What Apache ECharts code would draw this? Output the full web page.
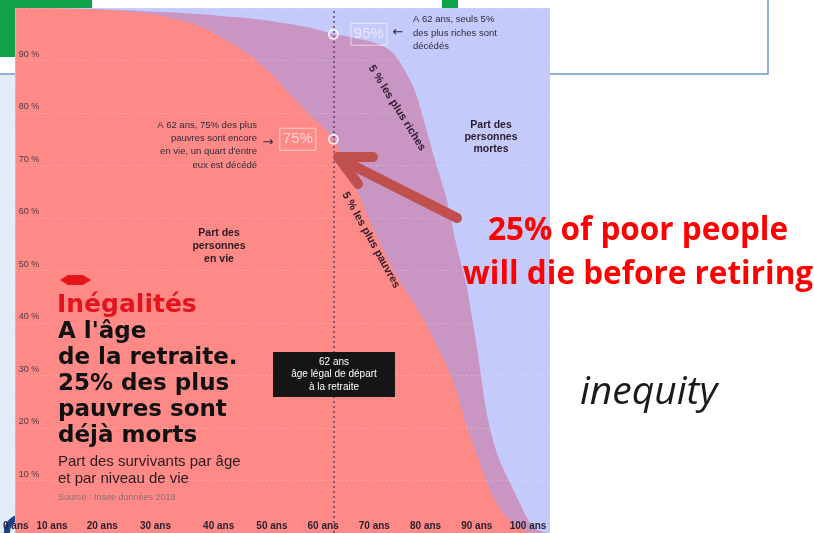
<!DOCTYPE html>
<html>
<head>
<meta charset="utf-8">
<script src="https://cdn.jsdelivr.net/npm/echarts@6/dist/echarts.min.js"></script>
<style>
  html, body { margin: 0; padding: 0; background: #fff; }
  #chart { width: 814px; height: 533px; }
</style>
</head>
<body>
<div id="chart"></div>
<script>
// âges (ans) et part des survivants (%)
var ages     = [0, 10, 15, 20, 25, 30, 35, 40, 45, 50, 55, 58, 60, 62, 64, 66, 68, 70, 72, 74, 76, 78, 80, 82, 84, 86, 88, 90, 92, 94, 96, 98, 100, 101, 102, 104];
var richPct  = [100, 99.9, 99.8, 99.6, 99.4, 99.2, 98.9, 98.5, 98.1, 97.5, 96.7, 96.1, 95.6, 95, 94.7, 94.3, 93.9, 93.4, 92.6, 91, 88, 84, 77.5, 70.5, 64, 55, 47, 35.5, 22.5, 15, 10.5, 6.5, 2.5, 1.2, 0.5, 0];
var poorPct  = [100, 99.9, 99.7, 99.5, 99, 98.2, 96.9, 94.5, 91.5, 87.3, 82, 79, 77.3, 75, 71, 66.5, 62, 57.5, 53.3, 49.5, 46.3, 43.2, 40, 36, 32, 27, 20.5, 15, 9.5, 5.5, 2.8, 1.2, 0.3, 0.1, 0, 0];

var ageTicks = [0, 10, 20, 30, 40, 50, 60, 70, 80, 90, 100];
var pctTicks = [10, 20, 30, 40, 50, 60, 70, 80, 90];

var retireAge = 62;
var markPct = [95, 75];   // riches, pauvres à 62 ans

function zip(xs, ys) {
  var out = [];
  for (var i = 0; i < xs.length; i++) out.push([xs[i], ys[i]]);
  return out;
}

var chart = echarts.init(document.getElementById('chart'));

var small = 'Liberation Sans';

// les étiquettes 10-40 ans sont un peu décalées à gauche dans l'original
var tickFont = { fontSize: 10, fontWeight: 'bold', color: '#2a2030', fontFamily: small };
var tickRich = {
  s0: tickFont,
  s10: Object.assign({ padding: [0, 30, 0, 0] }, tickFont),
  s20: Object.assign({ padding: [0, 32, 0, 0] }, tickFont),
  s30: Object.assign({ padding: [0, 28, 0, 0] }, tickFont),
  s40: Object.assign({ padding: [0, 4, 0, 0] }, tickFont)
};

var option = {
  animation: false,
  grid: { left: 15.5, right: 265.5, top: 8, bottom: -6 },
  xAxis: {
    type: 'value', min: 0, max: 104, interval: 10, z: 5,
    axisLine: { show: false }, axisTick: { show: false }, splitLine: { show: false },
    axisLabel: {
      inside: true, margin: 2, fontSize: 10, fontWeight: 'bold', color: '#2a2030', fontFamily: small,
      rich: tickRich,
      formatter: function (v) {
        if (ageTicks.indexOf(v) < 0) return '';
        var key = tickRich['s' + v] ? 's' + v : 's0';
        return '{' + key + '|' + v + ' ans}';
      }
    }
  },
  yAxis: {
    type: 'value', min: 0, max: 100, interval: 10, z: 5,
    axisLine: { show: false }, axisTick: { show: false },
    splitLine: { show: true, lineStyle: { color: 'rgba(255,255,255,0.25)', type: [2, 3], width: 1 } },
    axisLabel: {
      inside: true, margin: 3, fontSize: 9, color: '#4a3a40', fontFamily: small,
      verticalAlign: 'bottom', lineHeight: 12,
      formatter: function (v) { return pctTicks.indexOf(v) >= 0 ? v + ' %' : ''; }
    }
  },
  series: [
    {
      name: 'riches', type: 'line', z: 2, smooth: 0.3, symbol: 'none',
      data: zip(ages, richPct),
      lineStyle: { width: 0 },
      areaStyle: { color: '#c996c4', opacity: 1 }
    },
    {
      name: 'pauvres', type: 'line', z: 3, smooth: 0.3, symbol: 'none',
      data: zip(ages, poorPct),
      lineStyle: { width: 0 },
      areaStyle: { color: '#fe8a87', opacity: 1 }
    },
    {
      name: 'marques', type: 'scatter', z: 6,
      symbol: 'circle', symbolSize: 9,
      itemStyle: { color: 'rgba(0,0,0,0)', borderColor: '#fff', borderWidth: 2 },
      label: {
        show: true, distance: 12, fontSize: 15, fontFamily: small,
        color: 'rgba(255,240,248,0.9)', borderColor: 'rgba(255,255,255,0.75)', borderWidth: 1,
        padding: [4, 3, 3, 3],
        formatter: function (p) { return p.value[1] + '%'; }
      },
      data: [
        { value: [retireAge, markPct[0]], label: { position: 'right' } },
        { value: [retireAge, markPct[1]], label: { position: 'left' } }
      ],
      markLine: {
        silent: true, symbol: 'none', label: { show: false },
        lineStyle: { color: '#5d4468', type: [2, 3], width: 1.5 },
        data: [{ xAxis: retireAge }]
      }
    }
  ],
  graphic: [
    // fond de la diapositive
    { type: 'rect', z: -10, shape: { x: -1, y: -1, width: 769, height: 75 }, style: { fill: '#fff', stroke: '#6d94cc', lineWidth: 1.5 } },
    { type: 'rect', z: -9, shape: { x: 0, y: 0, width: 92, height: 57 }, style: { fill: '#10a24a' } },
    { type: 'rect', z: -9, shape: { x: 442, y: 0, width: 16, height: 8 }, style: { fill: '#10a24a' } },
    { type: 'rect', z: -9, shape: { x: 0, y: 75, width: 15, height: 458 }, style: { fill: '#e2ecf7' } },
    { type: 'arc', z: -8, shape: { cx: 22, cy: 532, r: 15, startAngle: Math.PI * 0.9, endAngle: Math.PI * 1.6 }, style: { stroke: '#1f3f8f', lineWidth: 6, fill: null } },
    // panneau du graphique
    { type: 'rect', z: -5, shape: { x: 15, y: 8, width: 535, height: 525 }, style: { fill: '#c4cafa' } },

    // annotations
    { type: 'text', z: 10, x: 413, y: 13, style: { text: 'A 62 ans, seuls 5%\ndes plus riches sont\ndécédés', font: '9.5px ' + small, lineHeight: 13.5, fill: '#2e2a3a' } },
    { type: 'text', z: 10, x: 398, y: 33, style: { text: '←', font: '13px DejaVu Sans', fill: '#2e2a3a', align: 'center', verticalAlign: 'middle' } },
    { type: 'text', z: 10, x: 257, y: 118.5, style: { text: 'A 62 ans, 75% des plus\npauvres sont encore\nen vie, un quart d\'entre\neux est décédé', font: '9.5px ' + small, lineHeight: 13.3, fill: '#2e2a3a', align: 'right' } },
    { type: 'text', z: 10, x: 268, y: 143, style: { text: '→', font: '13px DejaVu Sans', fill: '#2e2a3a', align: 'center', verticalAlign: 'middle' } },
    { type: 'text', z: 10, x: 219, y: 226.5, style: { text: 'Part des\npersonnes\nen vie', font: 'bold 10.5px ' + small, lineHeight: 13, fill: '#2a1a22', align: 'center' } },
    { type: 'text', z: 10, x: 491, y: 119, style: { text: 'Part des\npersonnes\nmortes', font: 'bold 10.5px ' + small, lineHeight: 12, fill: '#2a1a30', align: 'center' } },
    { type: 'text', z: 10, x: 397, y: 108, rotation: -58 * Math.PI / 180, style: { text: '5 % les plus riches', font: 'bold 11px ' + small, fill: '#2b1b2d', align: 'center', verticalAlign: 'middle' } },
    { type: 'text', z: 10, x: 371, y: 240, rotation: -61 * Math.PI / 180, style: { text: '5 % les plus pauvres', font: 'bold 11px ' + small, fill: '#2b1b2d', align: 'center', verticalAlign: 'middle' } },

    // encadré 62 ans
    { type: 'rect', z: 10, shape: { x: 273, y: 352, width: 122, height: 45 }, style: { fill: '#151515' } },
    { type: 'text', z: 11, x: 334, y: 355.5, style: { text: '62 ans\nâge légal de départ\nà la retraite', font: '10px ' + small, lineHeight: 12.5, fill: '#fff', align: 'center' } },

    // titre
    { type: 'polygon', z: 10, shape: { points: [[60, 280], [68, 275], [83, 275], [91, 280], [83, 285], [68, 285]] }, style: { fill: '#e3141b' } },
    { type: 'text', z: 10, x: 57, y: 305, style: { text: 'Inégalités', font: 'bold 25px DejaVu Sans', fill: '#e3141b', verticalAlign: 'middle' } },
    { type: 'text', z: 10, x: 58, y: 319, style: { text: 'A l\'âge\nde la retraite.\n25% des plus\npauvres sont\ndéjà morts', font: 'bold 23px DejaVu Sans', lineHeight: 26, fill: '#111' } },
    { type: 'text', z: 10, x: 58, y: 453.5, style: { text: 'Part des survivants par âge\net par niveau de vie', font: '15px ' + small, lineHeight: 17, fill: '#2a1a20' } },
    { type: 'text', z: 10, x: 58, y: 498, style: { text: 'Source : Insee données 2018', font: '9px ' + small, fill: '#8f6d70', verticalAlign: 'middle' } },

    // flèche et texte de la diapositive
    { type: 'polyline', z: 12, shape: { points: [[457, 218], [342, 160]] }, style: { stroke: '#c0504d', lineWidth: 10, lineCap: 'round' } },
    { type: 'polyline', z: 12, shape: { points: [[373, 157], [338, 157], [358, 184]] }, style: { stroke: '#c0504d', lineWidth: 10, lineCap: 'round', lineJoin: 'round', fill: null } },
    { type: 'text', z: 12, x: 638, y: 231, style: { text: '25% of poor people', font: 'bold 31.5px Open Sans', fill: '#ff0000', align: 'center', verticalAlign: 'middle' } },
    { type: 'text', z: 12, x: 638, y: 275, style: { text: 'will die before retiring', font: 'bold 31.5px Open Sans', fill: '#ff0000', align: 'center', verticalAlign: 'middle' } },
    { type: 'text', z: 12, x: 580, y: 393, style: { text: 'inequity', font: 'italic 39px Open Sans', fill: '#1a1a1a', verticalAlign: 'middle' } }
  ]
};

chart.setOption(option);
</script>
</body>
</html>
